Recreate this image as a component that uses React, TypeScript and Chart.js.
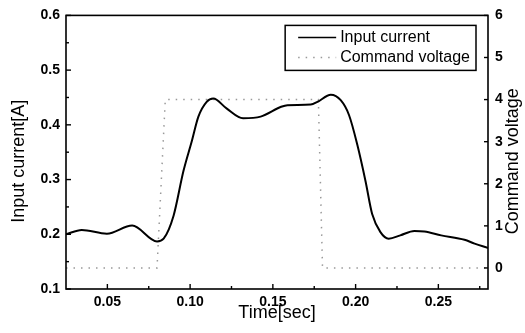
import React, { useEffect, useRef } from "react";
import { Chart, registerables } from "chart.js";

Chart.register(...registerables);

// ---- data ----
const timeSec = [0.025, 0.0345, 0.0497, 0.065, 0.080, 0.084, 0.090, 0.096, 0.101, 0.105, 0.110, 0.114, 0.122, 0.132, 0.1426, 0.155, 0.1588, 0.1729, 0.177, 0.185, 0.191, 0.196, 0.201, 0.206, 0.210, 0.215, 0.220, 0.227, 0.2355, 0.2416, 0.2517, 0.2658, 0.2719, 0.28];
const inputCurrent = [0.200, 0.208, 0.201, 0.216, 0.187, 0.192, 0.234, 0.316, 0.370, 0.415, 0.442, 0.448, 0.430, 0.412, 0.415, 0.433, 0.436, 0.437, 0.442, 0.455, 0.445, 0.418, 0.364, 0.297, 0.237, 0.204, 0.192, 0.198, 0.206, 0.205, 0.198, 0.190, 0.183, 0.175];
const cmdTime = [0.025, 0.080, 0.085, 0.1775, 0.180, 0.28];
const cmdVoltage = [0, 0, 4, 4, 0, 0];

const xTicks = [0.05, 0.10, 0.15, 0.20, 0.25];
const xMinorTicks = [0.075, 0.125, 0.175, 0.225, 0.275];
const leftTicks = [0.1, 0.2, 0.3, 0.4, 0.5, 0.6];
const leftMinorTicks = [0.15, 0.25, 0.35, 0.45, 0.55];
const rightTicks = [0, 1, 2, 3, 4, 5, 6];

const seriesLabels = ["Input current", "Command voltage"];
const xTitle = "Time[sec]";
const leftTitle = "Input current[A]";
const rightTitle = "Command voltage";

const FONT = "'Liberation Sans', Arial, Helvetica, sans-serif";

const framePlugin = {
  id: "frameTicksLegend",
  afterDatasetsDraw(chart: any) {
    const { ctx, chartArea: a, scales } = chart;
    ctx.save();
    ctx.strokeStyle = "#000";
    ctx.lineWidth = 1.6;
    ctx.strokeRect(a.left, a.top, a.right - a.left, a.bottom - a.top);
    const seg = (x1: number, y1: number, x2: number, y2: number) => {
      ctx.beginPath();
      ctx.moveTo(x1, y1);
      ctx.lineTo(x2, y2);
      ctx.stroke();
    };
    ctx.lineWidth = 1.4;
    xTicks.forEach((v) => {
      const x = scales.x.getPixelForValue(v);
      seg(x, a.bottom, x, a.bottom - 5);
    });
    xMinorTicks.forEach((v) => {
      const x = scales.x.getPixelForValue(v);
      seg(x, a.bottom, x, a.bottom - 3);
    });
    leftTicks.forEach((v) => {
      const y = scales.y.getPixelForValue(v);
      seg(a.left, y, a.left + 5, y);
    });
    leftMinorTicks.forEach((v) => {
      const y = scales.y.getPixelForValue(v);
      seg(a.left, y, a.left + 3, y);
    });
    rightTicks.forEach((v) => {
      const y = scales.y2.getPixelForValue(v);
      seg(a.right, y, a.right - 4, y);
    });

    // legend
    ctx.font = `16px ${FONT}`;
    const w0 = ctx.measureText(seriesLabels[0]).width;
    const w1 = ctx.measureText(seriesLabels[1]).width;
    const tw = Math.max(w0, w1);
    const boxRight = a.right - 12;
    const boxTop = a.top + 10;
    const sampleLen = 38;
    const boxW = 13 + sampleLen + 4 + tw + 6;
    const boxLeft = boxRight - boxW;
    const boxH = 45;
    ctx.fillStyle = "#fff";
    ctx.fillRect(boxLeft, boxTop, boxW, boxH);
    ctx.lineWidth = 1.5;
    ctx.strokeStyle = "#000";
    ctx.strokeRect(boxLeft, boxTop, boxW, boxH);
    const rows = [boxTop + 12, boxTop + 32];
    const sx = boxLeft + 13;
    ctx.lineWidth = 1.5;
    ctx.strokeStyle = "#000";
    seg(sx, rows[0], sx + sampleLen, rows[0]);
    ctx.strokeStyle = "#999";
    ctx.setLineDash([1.5, 6]);
    seg(sx, rows[1], sx + sampleLen, rows[1]);
    ctx.setLineDash([]);
    ctx.fillStyle = "#000";
    ctx.textBaseline = "middle";
    ctx.textAlign = "left";
    ctx.fillText(seriesLabels[0], sx + sampleLen + 4, rows[0]);
    ctx.fillText(seriesLabels[1], sx + sampleLen + 4, rows[1]);

    // vertical axis titles
    const midY = (a.top + a.bottom) / 2 + 9;
    ctx.font = `18px ${FONT}`;
    ctx.textAlign = "center";
    ctx.textBaseline = "middle";
    ctx.save();
    ctx.translate(19, midY);
    ctx.rotate(-Math.PI / 2);
    ctx.fillText(leftTitle, 0, 0);
    ctx.restore();
    ctx.save();
    ctx.translate(513, midY);
    ctx.rotate(-Math.PI / 2);
    ctx.fillText(rightTitle, 0, 0);
    ctx.restore();
    ctx.restore();
  },
};

export default function App() {
  const ref = useRef<HTMLCanvasElement | null>(null);
  useEffect(() => {
    if (!ref.current) return;
    const tickFont = { family: FONT, size: 14, weight: "bold" as const };
    const titleFont = { family: FONT, size: 18 };
    const chart = new Chart(ref.current, {
      type: "line",
      data: {
        datasets: [
          {
            label: seriesLabels[0],
            data: timeSec.map((t, i) => ({ x: t, y: inputCurrent[i] })),
            borderColor: "#000",
            borderWidth: 2,
            pointRadius: 0,
            cubicInterpolationMode: "monotone",
            yAxisID: "y",
          },
          {
            label: seriesLabels[1],
            data: cmdTime.map((t, i) => ({ x: t, y: cmdVoltage[i] })),
            borderColor: "#999",
            borderWidth: 1.5,
            borderDash: [1.5, 6],
            pointRadius: 0,
            tension: 0,
            yAxisID: "y2",
          },
        ],
      },
      options: {
        animation: false,
        responsive: false,
        maintainAspectRatio: false,
        layout: { padding: { top: 13, bottom: 9, left: 0, right: 0 } },
        plugins: { legend: { display: false }, tooltip: { enabled: false } },
        scales: {
          x: {
            type: "linear",
            min: 0.025,
            max: 0.28,
            grid: { display: false, drawTicks: false },
            border: { display: false },
            ticks: { font: tickFont, color: "#000", padding: 5, callback: (v: any) => Number(v).toFixed(2) },
            afterBuildTicks: (s: any) => { s.ticks = xTicks.map((v) => ({ value: v })); },
            afterFit: (s: any) => { s.height = 35; },
            title: { display: true, text: xTitle, font: titleFont, color: "#000", padding: { top: 0, bottom: 0 } },
          },
          y: {
            type: "linear",
            position: "left",
            min: 0.1,
            max: 0.6,
            grid: { display: false, drawTicks: false },
            border: { display: false },
            ticks: { font: tickFont, color: "#000", padding: 6, callback: (v: any) => Number(v).toFixed(1) },
            afterBuildTicks: (s: any) => { s.ticks = leftTicks.map((v) => ({ value: v })); },
            afterFit: (s: any) => { s.width = 66; },
            title: { display: false },
          },
          y2: {
            type: "linear",
            position: "right",
            min: -0.5,
            max: 6,
            grid: { display: false, drawTicks: false },
            border: { display: false },
            ticks: { font: tickFont, color: "#000", padding: 7, callback: (v: any) => String(v) },
            afterBuildTicks: (s: any) => { s.ticks = rightTicks.map((v) => ({ value: v })); },
            afterFit: (s: any) => { s.width = 37; },
            title: { display: false },
          },
        },
      },
      plugins: [framePlugin],
    });
    return () => chart.destroy();
  }, []);
  return (
    <div style={{ position: "fixed", left: 0, top: 0, width: 525, height: 333, background: "#fff" }}>
      <canvas ref={ref} width={525} height={333} style={{ display: "block", width: 525, height: 333 }} />
    </div>
  );
}
